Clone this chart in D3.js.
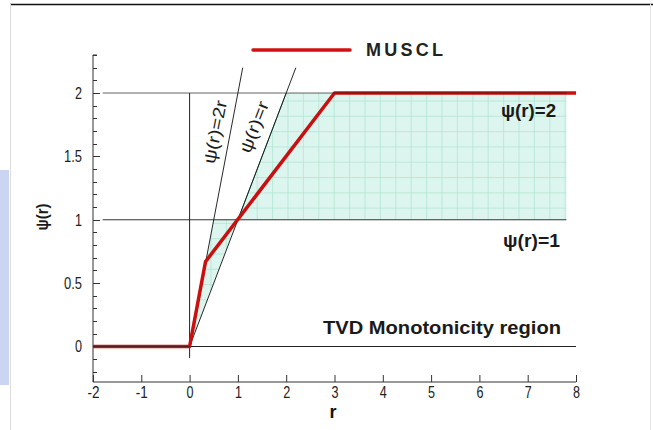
<!DOCTYPE html>
<html>
<head>
<meta charset="utf-8">
<script src="https://cdn.jsdelivr.net/npm/d3@7"></script>
<style>
  body { margin: 0; background: #fff; }
  svg { display: block; font-family: "Liberation Sans", Arial, sans-serif; }
</style>
</head>
<body>
<svg id="chart" width="653" height="430"></svg>
<script>
// MUSCL limiter
var musclR   = [-2, 0, 0.33, 3, 8];
var musclPsi = [0, 0, 0.67, 2, 2];

// TVD region outline (two pieces)
var tvdLowR   = [0, 0.5, 1];
var tvdLowPsi = [0, 1, 1];
var tvdHighR   = [1, 2, 7.8, 7.8];
var tvdHighPsi = [1, 2, 2, 1];

// guide lines psi=2r and psi=r
var line2rR   = [0, 1.1];
var line2rPsi = [0, 2.2];
var line1rR   = [0, 2.2];
var line1rPsi = [0, 2.2];

var xTicks = [-2, -1, 0, 1, 2, 3, 4, 5, 6, 7, 8];
var xLabels = ['-2', '-1', '0', '1', '2', '3', '4', '5', '6', '7', '8'];
var yTicks = [0, 0.5, 1, 1.5, 2];
var yLabels = ['0', '0.5', '1', '1.5', '2'];

var svg = d3.select('#chart');

var x = d3.scaleLinear().domain([-2, 8]).range([93, 576]);
var y = d3.scaleLinear().domain([-0.28, 2.3]).range([382, 55]);

// narrow tick digits like the original
function tickWidth(s) {
  var w = 0;
  for (var i = 0; i < s.length; i++) {
    w += s[i] === '.' ? 4 : (s[i] === '-' ? 5 : 7);
  }
  return w;
}

// slide frame bits
svg.append('rect').attr('x', 0).attr('y', 170).attr('width', 9).attr('height', 215)
  .attr('fill', '#b4c3ee').attr('opacity', 0.7);
svg.append('line').attr('x1', 10).attr('x2', 653).attr('y1', 4.5).attr('y2', 4.5)
  .attr('stroke', '#111').attr('stroke-width', 1.5);
svg.append('line').attr('x1', 10.5).attr('x2', 10.5).attr('y1', 4).attr('y2', 430)
  .attr('stroke', '#ddd');
svg.append('line').attr('x1', 650.5).attr('x2', 650.5).attr('y1', 4).attr('y2', 430)
  .attr('stroke', '#e4e4e4');

function pts(rs, ps) {
  return rs.map(function (r, i) { return [x(r), y(ps[i])]; });
}
var lineGen = d3.line();

// shaded TVD region with its grid
var defs = svg.append('defs');
var clip = defs.append('clipPath').attr('id', 'tvdClip');
clip.append('path').attr('d', lineGen(pts(tvdLowR, tvdLowPsi)) + 'Z');
clip.append('path').attr('d', lineGen(pts(tvdHighR, tvdHighPsi)) + 'Z');

var shade = svg.append('g').attr('clip-path', 'url(#tvdClip)');
shade.append('rect').attr('x', x(0)).attr('y', y(2)).attr('width', x(8) - x(0)).attr('height', y(0) - y(2))
  .attr('fill', '#dcf5ee');
d3.range(x(0) + 6, x(8), 15.4).forEach(function (px) {
  shade.append('line').attr('x1', px).attr('x2', px).attr('y1', y(2)).attr('y2', y(0))
    .attr('stroke', '#ade4d1').attr('stroke-width', 0.7);
});
d3.range(y(2) + 8, y(0), 15.3).forEach(function (py) {
  shade.append('line').attr('x1', x(0)).attr('x2', x(8)).attr('y1', py).attr('y2', py)
    .attr('stroke', '#ade4d1').attr('stroke-width', 0.7);
});
// darker edge along psi=r inside the region
svg.append('path').attr('d', lineGen(pts([1, 2], [1, 2]))).attr('stroke', '#3a8f78').attr('stroke-width', 1);

// axes
var xAxis = d3.axisBottom(x).tickValues(xTicks).tickSize(-7)
  .tickFormat(function (d, i) { return xLabels[i]; });
var gx = svg.append('g').attr('transform', 'translate(0,' + y(-0.28) + ')').call(xAxis);
gx.attr('font-size', null).attr('font-family', null);
gx.select('.domain').attr('stroke', '#333').attr('d', 'M' + x(-2) + ',0H' + x(8));
gx.selectAll('.tick line').attr('stroke', '#333');
gx.selectAll('.tick text').attr('y', 4).attr('dy', '0.75em')
  .style('font-size', '16px').attr('fill', '#222')
  .attr('textLength', function (d, i) { return tickWidth(xLabels[i]); })
  .attr('lengthAdjust', 'spacingAndGlyphs');

var yMinor = d3.range(-2, 24).map(function (d) { return d / 10; });
var gy = svg.append('g').attr('transform', 'translate(' + x(-2) + ',0)');
gy.append('line').attr('x1', 0).attr('x2', 0).attr('y1', y(2.3)).attr('y2', y(-0.28)).attr('stroke', '#333');
gy.selectAll('line.minor').data(yMinor).enter().append('line').attr('class', 'minor')
  .attr('x1', 0).attr('x2', function (d) { return Math.abs(d * 2 - Math.round(d * 2)) < 1e-6 ? 7 : 4; })
  .attr('y1', function (d) { return Math.round(y(d)) + 0.5; })
  .attr('y2', function (d) { return Math.round(y(d)) + 0.5; })
  .attr('stroke', '#333');
gy.append('line').attr('x1', 0).attr('x2', 4).attr('y1', y(2.3)).attr('y2', y(2.3)).attr('stroke', '#333');
gy.selectAll('text').data(yTicks).enter().append('text')
  .style('font-size', '16px').attr('fill', '#222')
  .attr('x', -11).attr('y', function (d) { return y(d); }).attr('dy', '0.36em')
  .attr('text-anchor', 'end')
  .attr('textLength', function (d, i) { return tickWidth(yLabels[i]); })
  .attr('lengthAdjust', 'spacingAndGlyphs')
  .text(function (d, i) { return yLabels[i]; });

// reference lines psi=0,1,2 and r=0
svg.append('line').attr('x1', x(-2)).attr('x2', x(8)).attr('y1', y(0)).attr('y2', y(0)).attr('stroke', '#222');
svg.append('line').attr('x1', x(-1.8)).attr('x2', x(7.8)).attr('y1', y(1)).attr('y2', y(1)).attr('stroke', '#333');
svg.append('line').attr('x1', x(0)).attr('x2', x(0)).attr('y1', y(2)).attr('y2', y(-0.09)).attr('stroke', '#222');

// psi = 2r, psi = r
svg.append('path').attr('d', lineGen(pts(line2rR, line2rPsi))).attr('fill', 'none').attr('stroke', '#111').attr('stroke-width', 0.9);
svg.append('path').attr('d', lineGen(pts(line1rR, line1rPsi))).attr('fill', 'none').attr('stroke', '#111').attr('stroke-width', 0.9);

// MUSCL curve
svg.append('path').attr('d', lineGen(pts(musclR, musclPsi))).attr('fill', 'none')
  .attr('stroke', '#c81010').attr('stroke-width', 3.5).attr('stroke-linejoin', 'round');
svg.append('line').attr('x1', x(-1.8)).attr('x2', x(7.8)).attr('y1', y(2)).attr('y2', y(2))
  .attr('stroke', '#222').attr('stroke-opacity', 0.7);
svg.append('line').attr('x1', x(-2)).attr('x2', x(0)).attr('y1', y(0)).attr('y2', y(0))
  .attr('stroke', '#222').attr('stroke-opacity', 0.7);

// legend
svg.append('line').attr('x1', 253).attr('x2', 350).attr('y1', 50).attr('y2', 50)
  .attr('stroke', '#d21010').attr('stroke-width', 3.5).attr('stroke-linecap', 'round');
svg.append('text').attr('x', 366).attr('y', 56).attr('font-size', 18).attr('font-weight', 'bold')
  .attr('fill', '#222').attr('textLength', 77).attr('lengthAdjust', 'spacing').text('MUSCL');

// annotations
function label(txt, tx, ty, size, len, rot, bold) {
  var t = svg.append('text').attr('font-size', size).attr('fill', '#1a1a1a').text(txt);
  if (bold) t.attr('font-weight', 'bold');
  if (len) t.attr('textLength', len).attr('lengthAdjust', 'spacingAndGlyphs');
  if (rot) {
    t.attr('text-anchor', 'middle').attr('dy', '0.35em')
      .attr('transform', 'translate(' + tx + ',' + ty + ') rotate(' + rot + ')');
  } else {
    t.attr('x', tx).attr('y', ty);
  }
  return t;
}
label('\u03c8(r)=2', 501, 117, 18, 55, 0, true);
label('\u03c8(r)=1', 503, 247, 18, 57, 0, true);
label('TVD Monotonicity region', 323, 334, 19, 238, 0, true);
label('\u03c8(r)=2r', 215, 132, 17, 64, -79, false);
label('\u03c8(r)=r', 254, 127, 17, 54, -69, false);
label('\u03c8(r)', 42, 217, 17, 27, -90, true);
svg.append('text').attr('x', 333).attr('y', 418).attr('text-anchor', 'middle')
  .attr('font-size', 18).attr('font-weight', 'bold').attr('fill', '#111').text('r');
</script>
</body>
</html>
